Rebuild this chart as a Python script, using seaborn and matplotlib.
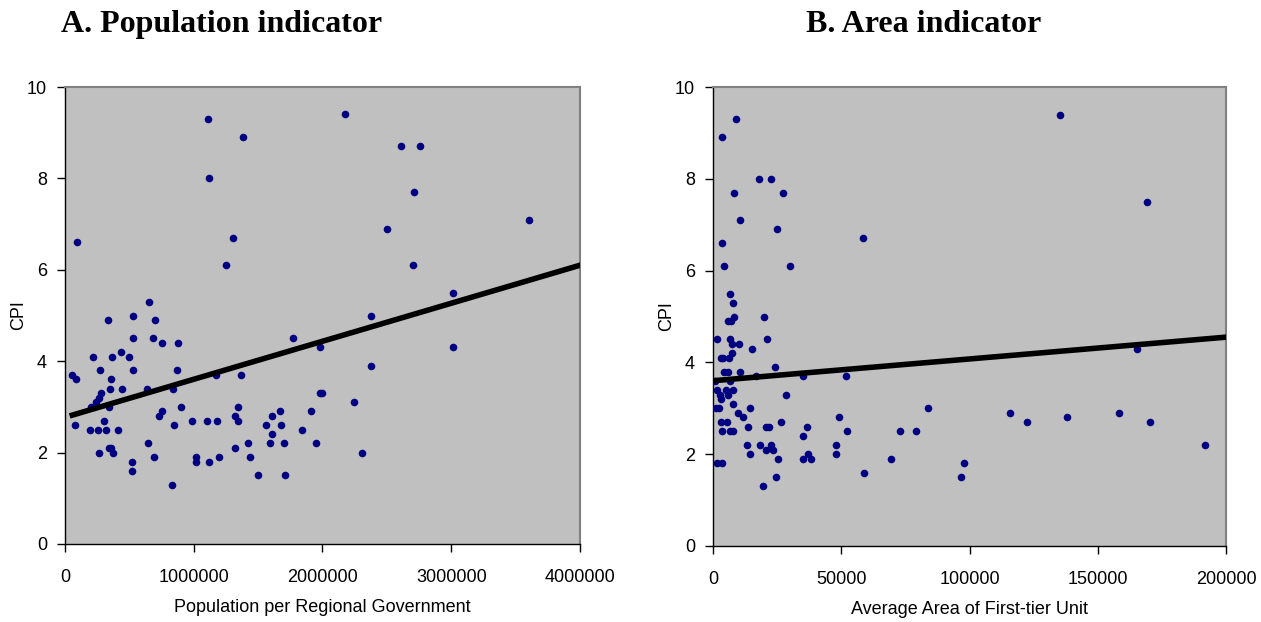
import numpy as np
import seaborn as sns
import matplotlib.pyplot as plt
from matplotlib.ticker import FuncFormatter

# Panel A: population per regional government (persons) vs CPI
pop_millions = [
    0.057, 0.088, 0.096, 0.08, 0.194, 0.20, 0.215, 0.24, 0.26, 0.264,
    0.267, 0.274, 0.277, 0.30, 0.32, 0.336, 0.34, 0.344, 0.35, 0.355,
    0.355, 0.367, 0.375, 0.41, 0.435, 0.443, 0.50, 0.52, 0.52, 0.526,
    0.53, 0.53, 0.64, 0.645, 0.655, 0.68, 0.69, 0.70, 0.73, 0.75,
    0.75, 0.83, 0.836, 0.85, 0.87, 0.88, 0.90, 0.986, 1.02, 1.02,
    1.10, 1.108, 1.116, 1.116, 1.17, 1.18, 1.196, 1.25, 1.307, 1.318,
    1.32, 1.34, 1.34, 1.37, 1.38, 1.42, 1.437, 1.50, 1.56, 1.59,
    1.61, 1.61, 1.67, 1.68, 1.70, 1.71, 1.77, 1.84, 1.91, 1.95,
    1.98, 1.98, 2.0, 2.175, 2.245, 2.31, 2.38, 2.38, 2.50, 2.61,
    2.70, 2.71, 2.76, 3.01, 3.01, 3.60,
]
cpi_a = [
    3.7, 3.6, 6.6, 2.6, 2.5, 3.0, 4.1, 3.1, 2.5, 2.0,
    3.2, 3.8, 3.3, 2.7, 2.5, 4.9, 3.0, 2.1, 3.4, 3.6,
    2.1, 4.1, 2.0, 2.5, 4.2, 3.4, 4.1, 1.8, 1.6, 3.8,
    5.0, 4.5, 3.4, 2.2, 5.3, 4.5, 1.9, 4.9, 2.8, 2.9,
    4.4, 1.3, 3.4, 2.6, 3.8, 4.4, 3.0, 2.7, 1.9, 1.8,
    2.7, 9.3, 8.0, 1.8, 3.7, 2.7, 1.9, 6.1, 6.7, 2.1,
    2.8, 3.0, 2.7, 3.7, 8.9, 2.2, 1.9, 1.5, 2.6, 2.2,
    2.8, 2.4, 2.9, 2.6, 2.2, 1.5, 4.5, 2.5, 2.9, 2.2,
    4.3, 3.3, 3.3, 9.4, 3.1, 2.0, 5.0, 3.9, 6.9, 8.7,
    6.1, 7.7, 8.7, 5.5, 4.3, 7.1,
]

# Panel B: average area of first-tier unit (thousand km2) vs CPI
area_thousands = [
    9.1, 3.6, 17.9, 22.7, 8.3, 27.4, 10.6, 25.1, 3.4, 4.2,
    30.1, 6.7, 7.8, 8.1, 20.0, 6.0, 6.9, 1.7, 6.5, 21.0,
    7.5, 10.1, 15.3, 7.3, 3.1, 3.8, 6.4, 24.2, 4.3, 6.0,
    10.5, 16.6, 35.0, 0.8, 6.5, 1.7, 5.1, 7.9, 2.7, 5.7,
    28.3, 3.0, 7.8, 1.0, 2.3, 14.4, 9.7, 11.7, 3.1, 5.6,
    26.6, 3.5, 6.6, 7.9, 13.6, 20.5, 21.9, 36.6, 35.0, 49.2,
    13.1, 18.3, 22.7, 20.5, 23.5, 14.4, 25.5, 35.2, 38.3, 36.9,
    47.8, 47.8, 1.7, 3.4, 24.6, 19.6, 135.3, 169.1, 58.5, 165.3,
    51.7, 83.8, 52.1, 73.0, 79.0, 58.7, 69.4, 97.7, 96.6, 115.9,
    122.3, 137.9, 158.4, 170.2, 191.9,
]
cpi_b = [
    9.3, 8.9, 8.0, 8.0, 7.7, 7.7, 7.1, 6.9, 6.6, 6.1,
    6.1, 5.5, 5.3, 5.0, 5.0, 4.9, 4.9, 4.5, 4.5, 4.5,
    4.4, 4.4, 4.3, 4.2, 4.1, 4.1, 4.1, 3.9, 3.8, 3.8,
    3.8, 3.7, 3.7, 3.6, 3.6, 3.4, 3.4, 3.4, 3.3, 3.3,
    3.3, 3.2, 3.1, 3.0, 3.0, 3.0, 2.9, 2.8, 2.7, 2.7,
    2.7, 2.5, 2.5, 2.5, 2.6, 2.6, 2.6, 2.6, 2.4, 2.8,
    2.2, 2.2, 2.2, 2.1, 2.1, 2.0, 1.9, 1.9, 1.9, 2.0,
    2.2, 2.0, 1.8, 1.8, 1.5, 1.3, 9.4, 7.5, 6.7, 4.3,
    3.7, 3.0, 2.5, 2.5, 2.5, 1.6, 1.9, 1.8, 1.5, 2.9,
    2.7, 2.8, 2.9, 2.7, 2.2,
]

# trendline end points
trend_a_x = [57000, 4000000]
trend_a_y = [2.82, 6.10]
trend_b_x = [0, 200000]
trend_b_y = [3.60, 4.55]

titles = ['A. Population indicator', 'B. Area indicator']
x_labels = ['Population per Regional Government', 'Average Area of First-tier Unit']
x_ticks = [[0, 1000000, 2000000, 3000000, 4000000], [0, 50000, 100000, 150000, 200000]]

plt.rcParams['font.family'] = ['Liberation Sans', 'DejaVu Sans']

fig = plt.figure(figsize=(12.61, 6.22), dpi=100)
ax_a = fig.add_axes([65 / 1261, 78 / 622, 515 / 1261, 457 / 622])
ax_b = fig.add_axes([713 / 1261, 76 / 622, 513 / 1261, 459 / 622])

panels = [
    (ax_a, np.array(pop_millions) * 1e6, np.array(cpi_a), trend_a_x, trend_a_y),
    (ax_b, np.array(area_thousands) * 1e3, np.array(cpi_b), trend_b_x, trend_b_y),
]

for i, (ax, x, y, tx, ty) in enumerate(panels):
    ax.set_facecolor('#c0c0c0')
    sns.scatterplot(x=x, y=y, ax=ax, color='#000080', s=30, linewidth=0, zorder=3)
    sns.lineplot(x=tx, y=ty, ax=ax, color='black', linewidth=4, zorder=4)

    ax.set_xlim(0, x_ticks[i][-1])
    ax.set_ylim(0, 10)
    ax.set_xticks(x_ticks[i])
    ax.set_yticks([0, 2, 4, 6, 8, 10])
    ax.xaxis.set_major_formatter(FuncFormatter(lambda v, p: f'{v:.0f}'))
    ax.tick_params(labelsize=13, direction='out', length=6, width=1, colors='black')
    ax.tick_params(axis='x', pad=12)
    ax.tick_params(axis='y', pad=7)
    ax.set_xlabel(x_labels[i], fontsize=13, labelpad=9)
    ax.set_ylabel('CPI', fontsize=13, labelpad=0)

    for side in ['top', 'right']:
        ax.spines[side].set_color('#808080')
        ax.spines[side].set_linewidth(1.5)
    for side in ['left', 'bottom']:
        ax.spines[side].set_color('black')
        ax.spines[side].set_linewidth(1)

title_font = dict(fontsize=23, fontweight='bold', family=['Liberation Serif', 'DejaVu Serif'],
                  va='baseline', ha='left')
fig.text(61 / 1261, 1 - 32 / 622, titles[0], **title_font)
fig.text(806 / 1261, 1 - 32 / 622, titles[1], **title_font)

fig.savefig('out.png', dpi=100)
